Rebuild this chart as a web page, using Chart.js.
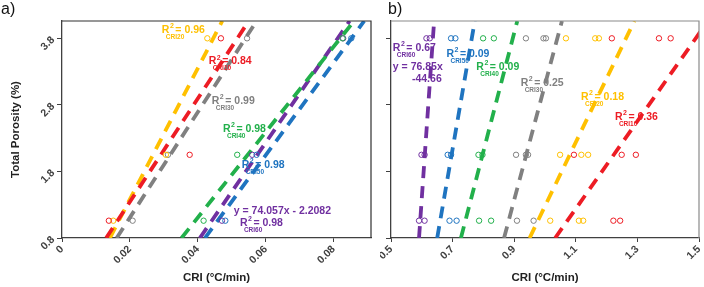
<!DOCTYPE html>
<html>
<head>
<meta charset="utf-8">
<script src="https://cdn.jsdelivr.net/npm/chart.js@4.4.1/dist/chart.umd.min.js"></script>
<style>
  html, body { margin: 0; padding: 0; background: #fff; }
  #wrap { position: relative; width: 704px; height: 287px; }
  canvas { position: absolute; top: 0; }
  #ca { left: 0; }
  #cb { left: 380px; }
  .tag { position: absolute; top: 0; font: 16px "Liberation Sans", Arial, sans-serif; color: #111; }
</style>
</head>
<body>
<div id="wrap">
  <canvas id="ca" width="380" height="287"></canvas>
  <canvas id="cb" width="324" height="287"></canvas>
  <div class="tag" style="left:1px">a)</div>
  <div class="tag" style="left:388px">b)</div>
</div>
<script>
// Porosity levels of the samples and the y range of the trend lines
const levels = [1.06, 2.05, 3.8];
const fitY = [0.8, 4.06];
const yTicks = [0.8, 1.8, 2.8, 3.8];
const xTicksA = [0, 0.02, 0.04, 0.06, 0.08];
const xTicksB = [0.5, 0.7, 0.9, 1.1, 1.3, 1.5];

const names = ['CRI10', 'CRI20', 'CRI30', 'CRI40', 'CRI50', 'CRI60'];
const colors = ['#ED1C24', '#FFC000', '#808080', '#22B04B', '#1F74C0', '#7030A0'];

// panel a: one CRI value per porosity level
const aCri10 = [0.0138, 0.0376, 0.0468];
const aCri20 = [0.0151, 0.0306, 0.0428];
const aCri30 = [0.0208, 0.0312, 0.0545];
const aCri40 = [0.0417, 0.0516, 0.0826];
const aCri50 = [0.0481, 0.0573, 0.0852];
const aCri60 = [0.0471, 0.0560, 0.0828];
// trend lines of panel a: x at y = 0.8 and y = 4.06
const aFit10 = [0.0130, 0.0550];
const aFit20 = [0.0141, 0.0472];
const aFit30 = [0.0161, 0.0573];
const aFit40 = [0.0352, 0.0860];
const aFit50 = [0.0421, 0.0890];
const aFit60 = [0.0406, 0.0847];

// panel b: several CRI values per porosity level
const bCri10 = [[1.222, 1.244], [1.094, 1.249, 1.295], [1.217, 1.370, 1.408]];
const bCri20 = [[1.017, 1.110, 1.124], [1.049, 1.118, 1.140], [1.068, 1.163, 1.175]];
const bCri30 = [[0.909, 0.963], [0.906, 0.938, 0.945], [0.938, 0.995, 1.003]];
const bCri40 = [[0.786, 0.825], [0.784, 0.797], [0.799, 0.834]];
const bCri50 = [[0.690, 0.713], [0.684, 0.695], [0.695, 0.709]];
const bCri60 = [[0.591, 0.609], [0.599, 0.609], [0.615, 0.626]];
const bFit10 = [1.033, 1.529];
const bFit20 = [0.950, 1.290];
const bFit30 = [0.867, 1.055];
const bFit40 = [0.727, 0.910];
const bFit50 = [0.650, 0.772];
const bFit60 = [0.591, 0.640];

// annotations: [x, y, colour index, value text, subscript] (data units)
const aNotes = [
  [0.0294, 3.92, 1, ' = 0.96', 'CRI20'],
  [0.0432, 3.45, 0, ' = 0.84', 'CRI10'],
  [0.0441, 2.85, 2, ' = 0.99', 'CRI30'],
  [0.0474, 2.44, 3, ' = 0.98', 'CRI40'],
  [0.0529, 1.89, 4, ' = 0.98', 'CRI50'],
  [0.0524, 1.02, 5, ' = 0.98', 'CRI60']
];
const aText = [[0.0506, 1.21, 5, 'y = 74.057x - 2.2082']];
const bNotes = [
  [0.506, 3.65, 5, ' = 0.67', 'CRI60'],
  [0.680, 3.56, 4, ' = 0.09', 'CRI50'],
  [0.777, 3.37, 3, ' = 0.09', 'CRI40'],
  [0.921, 3.13, 2, ' = 0.25', 'CRI30'],
  [1.117, 2.92, 1, ' = 0.18', 'CRI20'],
  [1.227, 2.62, 0, ' = 0.36', 'CRI10']
];
const bText = [[0.506, 3.37, 5, 'y = 76.85x'], [0.568, 3.19, 5, '-44.66']];

const FONT = '"Liberation Sans", Arial, sans-serif';

function pts(xs) { return xs.map((x, i) => ({ x: x, y: levels[i] })); }
function ptsMulti(groups) {
  const out = [];
  groups.forEach((g, i) => g.forEach(x => out.push({ x: x, y: levels[i] })));
  return out;
}
function fit(xs) { return xs.map((x, i) => ({ x: x, y: fitY[i] })); }

function buildSets(pointSets, fitSets) {
  const sets = [];
  names.forEach((n, i) => {
    sets.push({
      label: n + ' fit', data: fit(fitSets[i]), showLine: true,
      borderColor: colors[i], borderWidth: 3.8, borderDash: [12, 8],
      pointRadius: 0, order: 2
    });
    sets.push({
      label: n, data: pointSets[i], showLine: false,
      borderColor: colors[i], backgroundColor: 'rgba(0,0,0,0)',
      borderWidth: 1, pointRadius: 2.7, order: 1
    });
  });
  return sets;
}

const fmt = v => String(+v.toFixed(2));

const notesPlugin = {
  id: 'notes',
  afterDatasetsDraw(chart, args, opts) {
    const ctx = chart.ctx, xs = chart.scales.x, ys = chart.scales.y;
    ctx.save();
    ctx.textBaseline = 'middle';
    ctx.textAlign = 'left';
    opts.notes.forEach(n => {
      const px = xs.getPixelForValue(n[0]), py = ys.getPixelForValue(n[1]);
      ctx.fillStyle = colors[n[2]];
      ctx.font = 'bold 10.5px ' + FONT;
      ctx.fillText('R', px, py);
      const wR = ctx.measureText('R').width;
      ctx.font = 'bold 7px ' + FONT;
      ctx.fillText('2', px + wR + 0.5, py - 4);
      ctx.font = 'bold 10.5px ' + FONT;
      ctx.fillText(n[3], px + wR + 3, py);
      ctx.font = 'bold 6.5px ' + FONT;
      ctx.fillText(n[4], px + 4, py + 7);
    });
    ctx.font = 'bold 10.5px ' + FONT;
    opts.text.forEach(t => {
      ctx.fillStyle = colors[t[2]];
      ctx.fillText(t[3], xs.getPixelForValue(t[0]), ys.getPixelForValue(t[1]));
    });
    // top and right frame lines
    const a = chart.chartArea;
    ctx.strokeStyle = opts.frame;
    ctx.lineWidth = 1.2;
    ctx.beginPath();
    ctx.moveTo(a.left, a.top);
    ctx.lineTo(a.right, a.top);
    ctx.lineTo(a.right, a.bottom);
    ctx.stroke();
    ctx.restore();
  }
};

function makeChart(el, cfg) {
  return new Chart(document.getElementById(el), {
    type: 'scatter',
    data: { datasets: cfg.sets },
    options: {
      responsive: false,
      animation: false,
      layout: { padding: { top: 21, right: cfg.padRight, left: 0, bottom: 0 } },
      plugins: {
        legend: { display: false },
        tooltip: { enabled: false },
        notes: { notes: cfg.notes, text: cfg.text, frame: cfg.frame }
      },
      scales: {
        x: {
          type: 'linear', min: cfg.xMin, max: cfg.xMax,
          afterBuildTicks: s => { s.ticks = cfg.xTicks.map(v => ({ value: v })); },
          afterFit: s => { s.height = 49; s.paddingLeft = 0; s.paddingRight = 0; },
          ticks: {
            callback: v => fmt(v), minRotation: 45, maxRotation: 45,
            font: { family: FONT, size: 10.5, weight: 'bold' }, color: '#404040', padding: 1
          },
          grid: { drawOnChartArea: false, tickLength: 4, color: '#404040' },
          border: { color: '#404040', width: 1.3 },
          title: {
            display: true, text: 'CRI (°C/min)', color: '#222',
            font: { family: FONT, size: 11.5, weight: 'bold' }, padding: { top: 0, bottom: 2 }
          }
        },
        y: {
          type: 'linear', min: 0.8, max: 4.06,
          afterBuildTicks: s => { s.ticks = yTicks.map(v => ({ value: v })); },
          afterFit: s => { s.width = cfg.yWidth; s.paddingTop = 0; s.paddingBottom = 0; },
          ticks: {
            display: cfg.yLabels, callback: v => fmt(v), minRotation: 45, maxRotation: 45,
            font: { family: FONT, size: 10.5, weight: 'bold' }, color: '#404040', padding: 4
          },
          grid: { drawOnChartArea: false, tickLength: 5, color: '#404040' },
          border: { color: '#404040', width: 1.3 },
          title: {
            display: cfg.yLabels, text: 'Total Porosity (%)', color: '#222',
            font: { family: FONT, size: 11.5, weight: 'bold' }, padding: { top: 9, bottom: 2 }
          }
        }
      }
    },
    plugins: [notesPlugin]
  });
}

makeChart('ca', {
  sets: buildSets(
    [pts(aCri10), pts(aCri20), pts(aCri30), pts(aCri40), pts(aCri50), pts(aCri60)],
    [aFit10, aFit20, aFit30, aFit40, aFit50, aFit60]),
  xMin: 0, xMax: 0.091, xTicks: xTicksA,
  yWidth: 62, yLabels: true, padRight: 9,
  notes: aNotes, text: aText, frame: '#303030'
});

makeChart('cb', {
  sets: buildSets(
    [ptsMulti(bCri10), ptsMulti(bCri20), ptsMulti(bCri30), ptsMulti(bCri40), ptsMulti(bCri50), ptsMulti(bCri60)],
    [bFit10, bFit20, bFit30, bFit40, bFit50, bFit60]),
  xMin: 0.5, xMax: 1.5, xTicks: xTicksB,
  yWidth: 11, yLabels: false, padRight: 2,
  notes: bNotes, text: bText, frame: '#8a8a8a'
});
</script>
</body>
</html>
